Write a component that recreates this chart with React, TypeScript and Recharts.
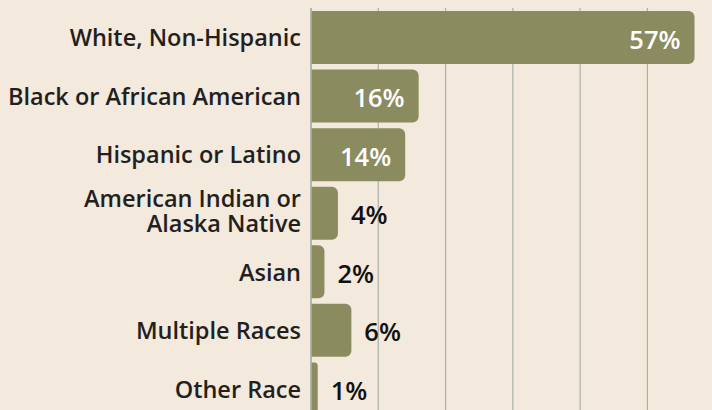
import { BarChart, Bar, XAxis, YAxis, CartesianGrid, LabelList } from "recharts";

const categories = [
  "White, Non-Hispanic",
  "Black or African American",
  "Hispanic or Latino",
  "American Indian or Alaska Native",
  "Asian",
  "Multiple Races",
  "Other Race",
];
const shares = [57, 16, 14, 4, 2, 6, 1];
const gridTicks = [0, 10, 20, 30, 40, 50];
const xMax = 59.6;

const chartData = categories.map((name, i) => ({ name, value: shares[i] }));

const FONT = "'Open Sans', sans-serif";
const BAR = "#8A8C5F";
const GRID = "#ABB1A8";

function wrap(label: string): string[] {
  if (label.length <= 26) return [label];
  const words = label.split(" ");
  const lines: string[] = [];
  let cur = "";
  for (const w of words) {
    const next = cur ? cur + " " + w : w;
    if (next.length > 20 && cur) {
      lines.push(cur);
      cur = w;
    } else cur = next;
  }
  if (cur) lines.push(cur);
  return lines;
}

// grid x positions from the axis scale (falls back to the plot offset)
function gridX(props: any): number[] {
  const s = props?.xAxis?.scale;
  if (typeof s === "function") return gridTicks.map((t) => s(t));
  if (s && typeof s.map === "function") return gridTicks.map((t) => s.map(t));
  const { offset } = props;
  return gridTicks.map((t) => offset.left + (offset.width * t) / xMax);
}

function CategoryTick(props: any) {
  const { x, y, payload } = props;
  const lines = wrap(payload.value);
  const lh = 25;
  const first = lines.length > 1 ? -6 : 9;
  return (
    <text
      x={x}
      y={y}
      textAnchor="end"
      fill="#231F20"
      fontFamily={FONT}
      fontWeight={600}
      fontSize={23.5}
    >
      {lines.map((l, i) => (
        <tspan key={i} x={x} dy={i === 0 ? first : lh}>
          {l}
        </tspan>
      ))}
    </text>
  );
}

function ValueLabel(props: any) {
  const { x, y, width, height, value } = props;
  const inside = value >= 10;
  const cy = y + height / 2;
  return (
    <text
      x={inside ? x + width - 14 : x + width + 13}
      y={cy + 11}
      textAnchor={inside ? "end" : "start"}
      fill={inside ? "#FFFFFF" : "#111111"}
      fontFamily={FONT}
      fontWeight={600}
      fontSize={25.5}
    >
      {value}%
    </text>
  );
}

export default function App() {
  return (
    <div
      style={{
        position: "fixed",
        left: 0,
        top: 0,
        width: 712,
        height: 410,
        overflow: "hidden",
        background: "#F3E9DC",
      }}
    >
      <BarChart
        width={712}
        height={418}
        data={chartData}
        layout="vertical"
        margin={{ top: 8, right: 0, bottom: 0, left: 0 }}
        barCategoryGap={3}
      >
        <CartesianGrid
          horizontal={false}
          stroke={GRID}
          strokeWidth={1.2}
          verticalCoordinatesGenerator={gridX}
        />
        <XAxis
          type="number"
          domain={[0, xMax]}
          ticks={gridTicks}
          height={0}
          tick={false}
          axisLine={false}
          tickLine={false}
        />
        <YAxis
          type="category"
          dataKey="name"
          width={311}
          tick={<CategoryTick />}
          tickLine={false}
          tickSize={0}
          tickMargin={10}
          axisLine={{ stroke: GRID, strokeWidth: 1.5 }}
        />
        <Bar dataKey="value" fill={BAR} radius={[0, 6, 6, 0]} isAnimationActive={false}>
          <LabelList dataKey="value" content={<ValueLabel />} />
        </Bar>
      </BarChart>
    </div>
  );
}
